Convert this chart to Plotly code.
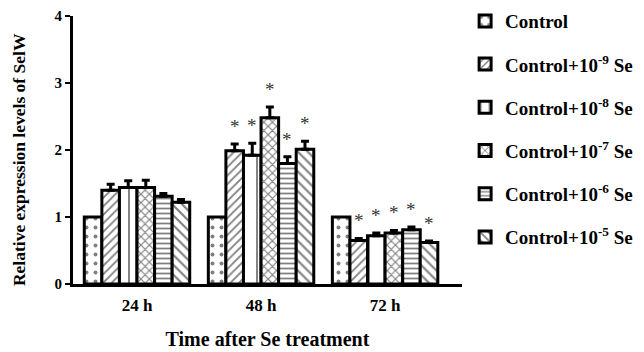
import plotly.graph_objects as go

times = ["24 h", "48 h", "72 h"]
series = ["Control", "Control+10<sup>-9</sup> Se", "Control+10<sup>-8</sup> Se",
          "Control+10<sup>-7</sup> Se", "Control+10<sup>-6</sup> Se", "Control+10<sup>-5</sup> Se"]
values = [
    [1.00, 1.00, 1.00],
    [1.40, 1.99, 0.65],
    [1.44, 1.92, 0.72],
    [1.44, 2.48, 0.76],
    [1.31, 1.80, 0.81],
    [1.22, 2.01, 0.62],
]
errors = [
    [0.0, 0.0, 0.0],
    [0.09, 0.10, 0.03],
    [0.10, 0.18, 0.04],
    [0.11, 0.16, 0.04],
    [0.04, 0.10, 0.04],
    [0.04, 0.12, 0.02],
]
significant = [
    [False, False, False],
    [False, True, True],
    [False, True, True],
    [False, True, True],
    [False, True, True],
    [False, True, True],
]
patterns = [".", "/", "|", "x", "-", "\\"]
pat_sizes = [9, 6, 16, 6, 5, 7]
pat_solid = [0.15, 0.3, 0.12, 0.35, 0.35, 0.3]

FONT = "Liberation Serif"
bargap = 0.15
n = len(series)
bw = (1 - bargap) / n

fig = go.Figure()
xs = list(range(len(times)))
for i, name in enumerate(series):
    fig.add_trace(go.Bar(
        x=xs, y=values[i], name=name,
        marker=dict(color="white",
                    line=dict(color="black", width=3),
                    pattern=dict(shape=patterns[i], fgcolor="black", bgcolor="white",
                                 size=pat_sizes[i], solidity=pat_solid[i], fillmode="overlay")),
        error_y=dict(type="data", array=errors[i], arrayminus=[0]*3, symmetric=False,
                     color="black", thickness=3, width=4, visible=any(e > 0 for e in errors[i])),
        legendgroup=str(i),
    ))
# significance stars
for i in range(n):
    for j in xs:
        if significant[i][j]:
            fig.add_annotation(x=j - (1 - bargap) / 2 + (i + 0.5) * bw,
                               y=values[i][j] + errors[i][j], xref="x", yref="y",
                               text="*", showarrow=False, yanchor="bottom", yshift=5,
                               font=dict(family=FONT, size=19, color="#333"))

# y-axis title
fig.add_annotation(x=-0.139, y=0.466, xref="paper", yref="paper", textangle=-90,
                   text="<b>Relative expression levels of SelW</b>", showarrow=False,
                   xanchor="center", yanchor="middle",
                   font=dict(family=FONT, size=17.5, color="black"))

# page body has an 8px margin: the figure is drawn from (8, 8)
fig.update_layout(
    width=636, height=344,
    margin=dict(l=65, r=182, t=8, b=68, autoexpand=False),
    plot_bgcolor="white", paper_bgcolor="white",
    barmode="group", bargap=bargap, bargroupgap=0,
    font=dict(family=FONT, color="black"),
    legend=dict(x=1.008, y=1.052, xanchor="left", yanchor="top", maxheight=340,
                font=dict(family=FONT, size=19, color="black", weight="bold"),
                tracegroupgap=15.5, itemwidth=30, bgcolor="rgba(0,0,0,0)"),
    xaxis=dict(range=[-0.516, 2.62], tickvals=xs, ticktext=["<b>%s</b>" % t for t in times],
               showline=True, linecolor="black", linewidth=3, ticks="",
               showgrid=False, zeroline=False, automargin=False, ticklabelstandoff=4,
               tickfont=dict(family=FONT, size=17, color="black"),
               title=dict(text="<b>Time after Se treatment</b>", standoff=18,
                          font=dict(family=FONT, size=20, color="black"))),
    yaxis=dict(range=[0, 4], tickvals=[0, 1, 2, 3, 4], ticktext=["<b>%d</b>" % v for v in range(5)],
               showline=True, linecolor="black", linewidth=3, ticks="outside", ticklen=5,
               tickwidth=2, tickcolor="black", showgrid=False, zeroline=False, automargin=False,
               tickfont=dict(family=FONT, size=15, color="black")),
)
fig.write_html("out.html")
